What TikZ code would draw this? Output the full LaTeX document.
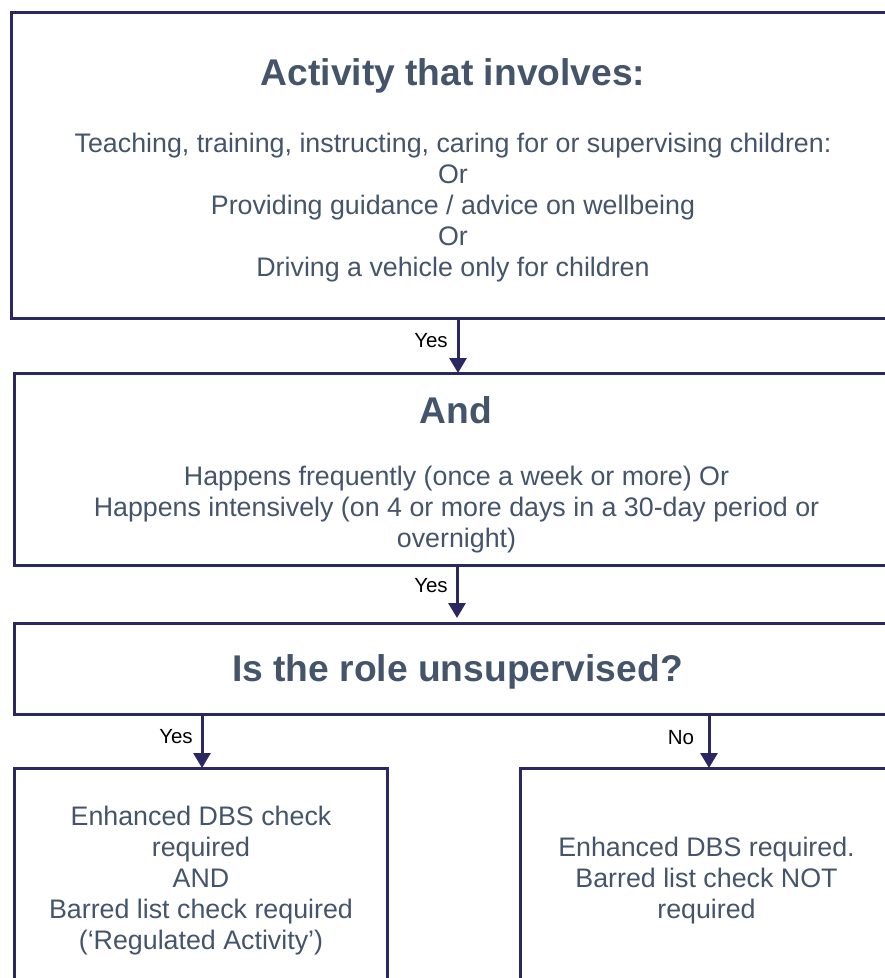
\documentclass[tikz,border=0pt]{standalone}
\usepackage{fontspec}
\setmainfont{Liberation Sans}
\usetikzlibrary{arrows.meta}
\definecolor{linec}{HTML}{2B2763}
\definecolor{textc}{HTML}{44546A}
\tikzset{
  box/.style={draw=linec, line width=3pt, inner sep=0pt, outer sep=0pt, fill=none},
  body/.style={text=textc, align=center, inner sep=0pt, font=\fontsize{26.8}{31}\selectfont},
  head/.style={text=textc, align=center, inner sep=0pt, font=\fontsize{37.2}{44}\selectfont\bfseries},
  lbl/.style={text=black, inner sep=0pt, font=\fontsize{20.5}{24}\selectfont},
  arr/.style={draw=linec, line width=3pt, -{Triangle[width=17pt,length=15pt]}}
}
\begin{document}
\begin{tikzpicture}[x=1pt,y=-1pt]
\useasboundingbox (0,0) rectangle (885,978);
\clip (0,0) rectangle (885,978);
% boxes
\node[box, minimum width=889pt, minimum height=306pt] (b1) at (455.5,165) {};
\node[box, minimum width=886pt, minimum height=192pt] (b2) at (457,469) {};
\node[box, minimum width=886pt, minimum height=91pt] (b3) at (457,668.5) {};
\node[box, minimum width=373pt, minimum height=240pt] (b4) at (200.5,888) {};
\node[box, minimum width=380pt, minimum height=240pt] (b5) at (710,888) {};
% texts
\node[head] (t1) at (453,75.5) {Activity that involves:};
\node[body] (t1b) at (453,207.5) {Teaching, training, instructing, caring for or supervising children:\\Or\\Providing guidance / advice on wellbeing\\Or\\Driving a vehicle only for children};
\node[head] (t2) at (456,410.5) {And};
\node[body] (t2b) at (456.5,509.5) {Happens frequently (once a week or more) Or\\Happens intensively (on 4 or more days in a 30-day period or\\overnight)};
\node[head] (t3) at (457.5,671.5) {Is the role unsupervised?};
\node[body] (t4) at (201,880.5) {Enhanced DBS check\\required\\AND\\Barred list check required\\(‘Regulated Activity’)};
\node[body] (t5) at (706.5,880.5) {Enhanced DBS required.\\Barred list check NOT\\required};
% connectors
\coordinate (c1) at (458,0);
\coordinate (c2) at (457,0);
\coordinate (c3) at (202,0);
\coordinate (c4) at (709,0);
\draw[arr] (c1 |- b1.south) -- (c1 |- b2.north);
\draw[arr, shorten >=5pt] (c2 |- b2.south) -- (c2 |- b3.north);
\draw[arr] (c3 |- b3.south) -- (c3 |- b4.north);
\draw[arr] (c4 |- b3.south) -- (c4 |- b5.north);
% labels
\node[lbl] (y1) at (431,341) {Yes};
\node[lbl] (y2) at (431,586) {Yes};
\node[lbl] (y3) at (176,737) {Yes};
\node[lbl] (n1) at (681,738) {No};
\end{tikzpicture}
\end{document}
